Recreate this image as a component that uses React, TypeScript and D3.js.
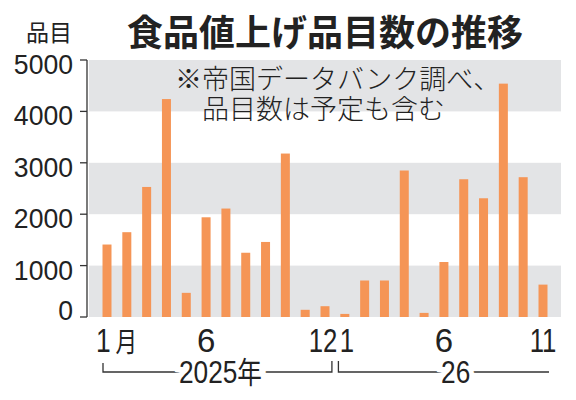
import * as d3 from 'd3'

const WIDTH = 576
const HEIGHT = 400

// 帝国データバンク調べ、2025年1月〜26年11月
const MONTHS = [
  '2025-01', '2025-02', '2025-03', '2025-04', '2025-05', '2025-06',
  '2025-07', '2025-08', '2025-09', '2025-10', '2025-11', '2025-12',
  '2026-01', '2026-02', '2026-03', '2026-04', '2026-05', '2026-06',
  '2026-07', '2026-08', '2026-09', '2026-10', '2026-11',
]
const COUNTS = [
  1410, 1650, 2530, 4240, 470, 1940, 2110, 1250, 1460, 3180, 140, 210,
  60, 710, 710, 2850, 80, 1070, 2680, 2310, 4540, 2720, 630,
]
const Y_TICKS = [0, 1000, 2000, 3000, 4000, 5000]
const BANDS: [number, number][] = [[0, 1000], [2000, 3000], [4000, 5000]]
const MONTH_LABELS = [
  { key: '2025-01', text: '1', suffix: '月' },
  { key: '2025-06', text: '6' },
  { key: '2025-12', text: '12' },
  { key: '2026-01', text: '1' },
  { key: '2026-06', text: '6' },
  { key: '2026-11', text: '11' },
]
const YEARS = [
  { text: '2025', suffix: '年', from: '2025-01', to: '2025-12' },
  { text: '26', suffix: '', from: '2026-01', to: '2026-11' },
]

const TITLE = '食品値上げ品目数の推移'
const NOTE = ['※帝国データバンク調べ、', '品目数は予定も含む']

const ORANGE = '#f59556'
const GREY = '#e3e4e6'
const INK = '#222'
const NUM_FONT = '"Liberation Sans", Arial, sans-serif'
const JP_FONT = '"Noto Sans CJK JP", sans-serif'

// horizontally squeezed text, the paper's digits are condensed
function CondText({ x, y, sx = 0.8, anchor = 'start', size, children, halo = false }: any) {
  return (
    <text
      transform={`translate(${x},${y}) scale(${sx},1)`}
      textAnchor={anchor}
      fontFamily={NUM_FONT}
      fontSize={size}
      fill={halo ? 'white' : INK}
      stroke={halo ? 'white' : undefined}
      strokeWidth={halo ? 12 : undefined}
    >
      {children}
    </text>
  )
}

export default function App() {
  const x = d3.scalePoint<string>().domain(MONTHS).range([107, 543])
  const y = d3.scaleLinear().domain([0, 5000]).range([317, 60])
  const barW = 9
  const axisX = 87
  const plotLeft = 89
  const plotRight = 561

  const mid = (a: string, b: string) => ((x(a) ?? 0) + (x(b) ?? 0)) / 2

  return (
    <svg
      width={WIDTH}
      height={HEIGHT}
      style={{ position: 'absolute', left: 0, top: 0, background: 'white' }}
    >
      {/* grey bands */}
      {BANDS.map(([a, b], i) => (
        <rect key={i} x={plotLeft} width={plotRight - plotLeft} y={y(b)} height={y(a) - y(b)} fill={GREY} />
      ))}

      {/* bars */}
      {MONTHS.map((m, i) => (
        <rect
          key={m}
          x={(x(m) ?? 0) - barW / 2}
          width={barW}
          y={y(COUNTS[i])}
          height={y(0) - y(COUNTS[i])}
          fill={ORANGE}
        />
      ))}

      {/* note */}
      <text fontFamily={JP_FONT} fontSize={27} fill={INK} fontWeight={300}>
        <tspan x={175} y={89}>{NOTE[0]}</tspan>
        <tspan x={202} y={119}>{NOTE[1]}</tspan>
      </text>

      {/* y axis */}
      <line x1={axisX} x2={axisX} y1={y(5000)} y2={y(0)} stroke="#333" strokeWidth={1.3} />
      {Y_TICKS.map((t) => (
        <g key={t}>
          <line x1={axisX - 7} x2={axisX} y1={y(t)} y2={y(t)} stroke="#333" strokeWidth={1.3} />
          <CondText x={73} y={y(t) + (t === 0 ? 3 : 14)} anchor="end" size={28} sx={0.95}>
            {t}
          </CondText>
        </g>
      ))}
      <text x={72} y={41} textAnchor="end" fontFamily={JP_FONT} fontSize={23} fill={INK}>
        品目
      </text>

      {/* title */}
      <text x={127} y={46} fontFamily={JP_FONT} fontSize={36} fontWeight={700} fill={INK}>
        {TITLE}
      </text>

      {/* month labels */}
      {MONTH_LABELS.map((d) =>
        d.suffix ? (
          <CondText key={d.key} x={(x(d.key) ?? 0) - 11} y={352} size={33} sx={0.8}>
            {d.text}
            <tspan dx={6} fontFamily={JP_FONT} fontSize={27}>{d.suffix}</tspan>
          </CondText>
        ) : (
          <CondText
            key={d.key}
            x={(x(d.key) ?? 0) + (d.key === '2025-12' ? -2 : d.key === '2026-01' ? 2 : 0)}
            y={352}
            anchor="middle"
            size={33}
            sx={d.text === '6' ? 1 : 0.78}
          >
            {d.text}
          </CondText>
        )
      )}

      {/* year brackets */}
      {YEARS.map((d, i) => {
        const lineY = 372
        const first = i === 0
        const x0 = first ? (x(d.from) ?? 0) - 4 : mid('2025-12', '2026-01') + 3.5
        const x1 = first ? mid('2025-12', '2026-01') - 3 : (x(d.to) ?? 0) + 6
        const cx = (x0 + x1) / 2 + (first ? 3 : 12)
        const label = (halo: boolean) => (
          <CondText x={cx} y={383} anchor="middle" size={32} sx={0.82} halo={halo}>
            {d.text}
            {d.suffix && <tspan fontFamily={JP_FONT} fontSize={30}>{d.suffix}</tspan>}
          </CondText>
        )
        return (
          <g key={d.text}>
            <path
              d={
                first
                  ? `M${x0},${lineY - 9}V${lineY}H${x1}V${lineY - 11}`
                  : `M${x0},${lineY - 11}V${lineY}H${x1}`
              }
              fill="none"
              stroke="#333"
              strokeWidth={1.3}
            />
            {label(true)}
            {label(false)}
          </g>
        )
      })}
    </svg>
  )
}
